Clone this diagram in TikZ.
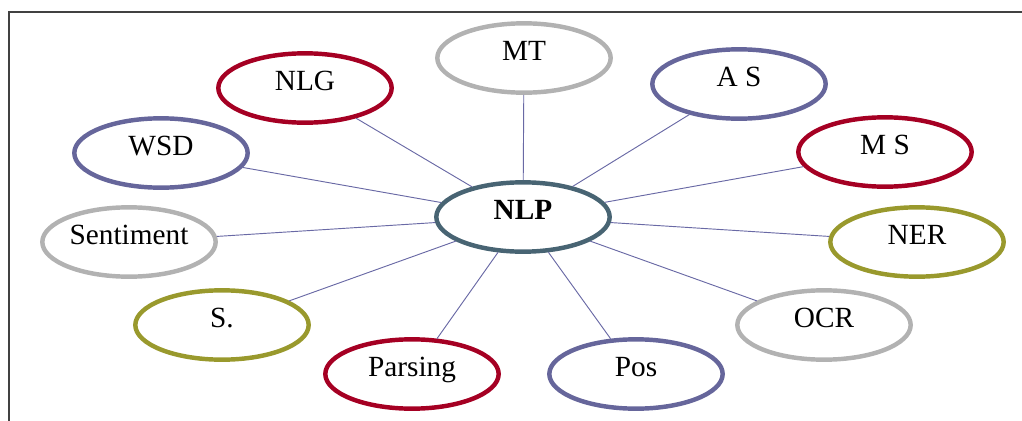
\documentclass[tikz,border=0pt]{standalone}
\usepackage{fontspec}
\setmainfont{Liberation Serif}
\usetikzlibrary{shapes.geometric}

\definecolor{rimred}{RGB}{165,0,35}
\definecolor{rimblue}{RGB}{102,102,155}
\definecolor{rimgray}{RGB}{178,178,178}
\definecolor{rimolive}{RGB}{153,153,45}
\definecolor{hubteal}{RGB}{72,100,115}
\definecolor{spoke}{RGB}{105,105,165}
\definecolor{framegray}{RGB}{65,65,65}

\begin{document}
\begin{tikzpicture}[x=0.03cm,y=-0.03cm,
    ring/.style={ellipse,draw=#1,line width=3.8pt,minimum width=5.2cm,minimum height=2.08cm,
      inner sep=0pt,text height=0.22cm,text depth=0.1cm,font=\fontsize{25}{29}\selectfont}]
      \useasboundingbox (0,0) rectangle (1022,421);
      \draw[framegray,line width=1.6pt] (1022,12) -- (9,12) -- (9,421);
      \node[ring=hubteal,font=\fontsize{25}{29}\selectfont\bfseries] (nlp) at (523,217) {NLP};
      \foreach \pos/\name/\txt/\col in { {(524,58)/mt/MT/rimgray}, {(305,88)/nlg/NLG/rimred},
        {(161,153)/wsd/WSD/rimblue}, {(739,84)/as/A S/rimblue}, {(885,152)/ms/M S/rimred},
        {(917,242)/ner/NER/rimolive}, {(824,325)/ocr/OCR/rimgray}, {(636,374)/pos/Pos/rimblue},
        {(412,374)/pars/Parsing/rimred}, {(222,325)/sr/S./rimolive}, {(129,242)/sent/Sentiment/rimgray}}
      \node[ring=\col] (\name) at \pos {\txt};
      \foreach \dest in {mt, nlg, wsd, as, ms, ner, ocr, pos, pars, sr, sent}
      \path[draw,spoke,line width=0.8pt] (nlp) -- (\dest);
    \end{tikzpicture}
\end{document}
